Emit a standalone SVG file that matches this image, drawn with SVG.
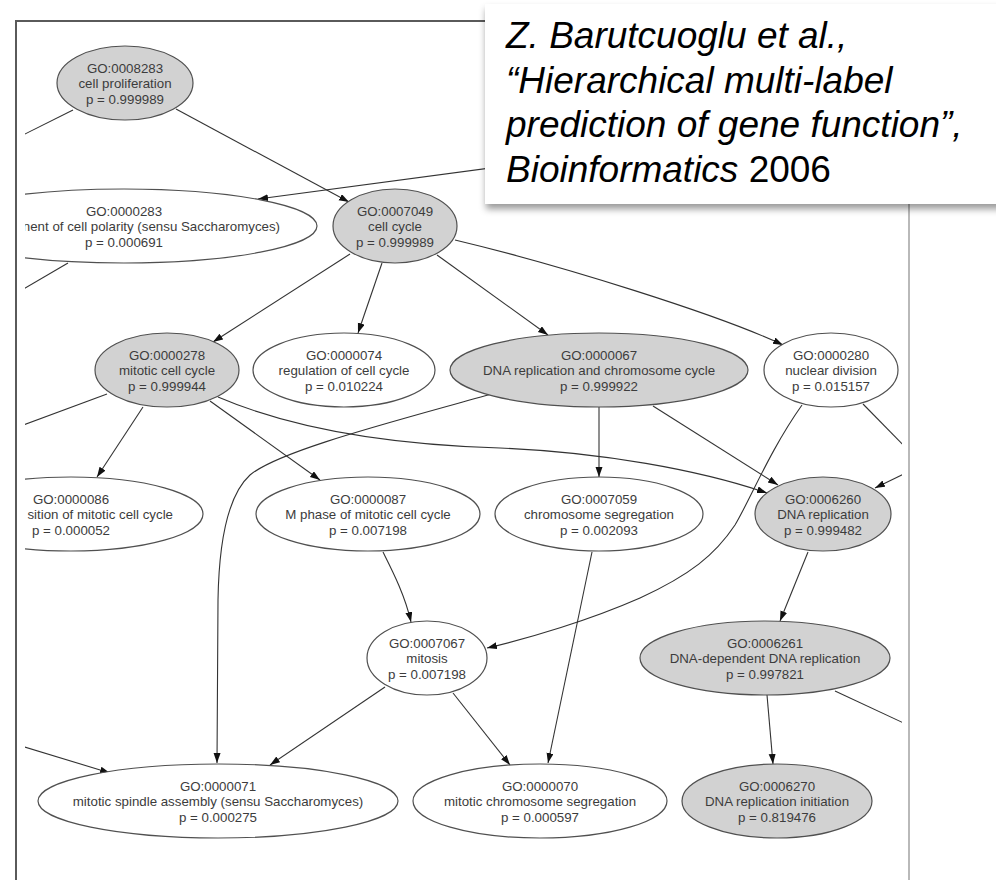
<svg xmlns="http://www.w3.org/2000/svg" width="996" height="880" viewBox="0 0 996 880">
<style>
.nd ellipse{stroke:#505050;stroke-width:1.2}
.g ellipse{fill:#d2d2d2}
.w ellipse{fill:#ffffff}
.nd text{font-family:"Liberation Sans",Arial,sans-serif;font-size:13.3px;fill:#3c3c3c;text-anchor:middle}
.nd text.e{text-anchor:end}
.edges path{fill:none;stroke:#333;stroke-width:1.1}
.edges path.a{marker-end:url(#arr)}
.cap{font-family:"Liberation Sans",Arial,sans-serif;font-size:37px;fill:#000;font-style:italic}
</style>
<defs>
<marker id="arr" markerUnits="userSpaceOnUse" markerWidth="11" markerHeight="8" refX="10" refY="3.5" orient="auto">
<path d="M0,0 L10,3.5 L0,7 z" fill="#111"/>
</marker>
<clipPath id="clip"><rect x="25" y="22" width="877" height="858"/></clipPath>
<filter id="sh" x="-10%" y="-20%" width="130%" height="150%">
<feDropShadow dx="1" dy="5" stdDeviation="3.5" flood-color="#000" flood-opacity="0.4"/>
</filter>
</defs>
<rect width="996" height="880" fill="#fff"/>
<g id="frame">
<path d="M16,880 L16,21 L909,21" fill="none" stroke="#5a5a5a" stroke-width="2"/>
<path d="M909,21 L909,880" fill="none" stroke="#8a8a8a" stroke-width="1.2"/>
</g>
<g clip-path="url(#clip)">
<g class="edges" id="connectors">
<path class="a" d="M176,109 L349,202"/>
<path d="M73,110 L15,139"/>
<path class="a" d="M520,164 L258,199"/>
<path d="M68,263 L15,294"/>
<path class="a" d="M350,254 L213,342"/>
<path class="a" d="M382,263 L358,333"/>
<path class="a" d="M437,255 L548,335"/>
<path class="a" d="M455,240 C560,265 720,315 783,345"/>
<path d="M107,394 L15,428"/>
<path class="a" d="M143,407 L97,477"/>
<path class="a" d="M210,401 L320,480"/>
<path class="a" d="M218,397 C300,432 400,445 500,448 C600,452 700,470 767,493"/>
<path class="a" d="M495,393 C400,420 280,450 250,475 C228,495 219,540 218,600 L217,763"/>
<path class="a" d="M383,552 C392,570 405,595 411,622"/>
<path class="a" d="M599,407 L599,477"/>
<path class="a" d="M653,406 L778,485"/>
<path class="a" d="M802,405 C770,450 750,500 735,525 C715,555 690,575 640,598 C590,620 530,638 487,648"/>
<path d="M863,404 L910,452"/>
<path class="a" d="M910,471 L875,488"/>
<path class="a" d="M592,552 L548,763"/>
<path class="a" d="M808,552 L780,621"/>
<path class="a" d="M385,687 L270,765"/>
<path class="a" d="M453,693 L510,765"/>
<path class="a" d="M15,744 L110,773"/>
<path class="a" d="M767,695 L773,764"/>
<path d="M835,691 L910,726"/>
</g>
<g id="n8283" class="nd g"><ellipse cx="125" cy="83" rx="68" ry="37"/><text x="125" y="72.5">GO:0008283</text><text x="125" y="88">cell proliferation</text><text x="125" y="103.5">p = 0.999989</text></g>
<g id="n0283" class="nd w"><ellipse cx="124" cy="226" rx="193" ry="37"/><text x="124" y="215.5">GO:0000283</text><text class="e" x="280" y="231">nent of cell polarity (sensu Saccharomyces)</text><text x="124" y="246.5">p = 0.000691</text></g>
<g id="n7049" class="nd g"><ellipse cx="395" cy="226" rx="62" ry="37"/><text x="395" y="215.5">GO:0007049</text><text x="395" y="231">cell cycle</text><text x="395" y="246.5">p = 0.999989</text></g>
<g id="n0278" class="nd g"><ellipse cx="167" cy="370" rx="72" ry="37"/><text x="167" y="359.5">GO:0000278</text><text x="167" y="375">mitotic cell cycle</text><text x="167" y="390.5">p = 0.999944</text></g>
<g id="n0074" class="nd w"><ellipse cx="344" cy="370" rx="91" ry="37"/><text x="344" y="359.5">GO:0000074</text><text x="344" y="375">regulation of cell cycle</text><text x="344" y="390.5">p = 0.010224</text></g>
<g id="n0067" class="nd g"><ellipse cx="599" cy="370" rx="149" ry="37"/><text x="599" y="359.5">GO:0000067</text><text x="599" y="375">DNA replication and chromosome cycle</text><text x="599" y="390.5">p = 0.999922</text></g>
<g id="n0280" class="nd w"><ellipse cx="831" cy="370" rx="67" ry="37"/><text x="831" y="359.5">GO:0000280</text><text x="831" y="375">nuclear division</text><text x="831" y="390.5">p = 0.015157</text></g>
<g id="n0086" class="nd w"><ellipse cx="71" cy="514" rx="132" ry="37"/><text x="71" y="503.5">GO:0000086</text><text class="e" x="173" y="519">sition of mitotic cell cycle</text><text x="71" y="534.5">p = 0.000052</text></g>
<g id="n0087" class="nd w"><ellipse cx="368" cy="514" rx="112" ry="37"/><text x="368" y="503.5">GO:0000087</text><text x="368" y="519">M phase of mitotic cell cycle</text><text x="368" y="534.5">p = 0.007198</text></g>
<g id="n7059" class="nd w"><ellipse cx="599" cy="514" rx="104" ry="37"/><text x="599" y="503.5">GO:0007059</text><text x="599" y="519">chromosome segregation</text><text x="599" y="534.5">p = 0.002093</text></g>
<g id="n6260" class="nd g"><ellipse cx="823" cy="514" rx="68" ry="37"/><text x="823" y="503.5">GO:0006260</text><text x="823" y="519">DNA replication</text><text x="823" y="534.5">p = 0.999482</text></g>
<g id="n7067" class="nd w"><ellipse cx="427" cy="658" rx="60" ry="37"/><text x="427" y="647.5">GO:0007067</text><text x="427" y="663">mitosis</text><text x="427" y="678.5">p = 0.007198</text></g>
<g id="n6261" class="nd g"><ellipse cx="765" cy="658" rx="125" ry="37"/><text x="765" y="647.5">GO:0006261</text><text x="765" y="663">DNA-dependent DNA replication</text><text x="765" y="678.5">p = 0.997821</text></g>
<g id="n0071" class="nd w"><ellipse cx="218" cy="801" rx="180" ry="37"/><text x="218" y="790.5">GO:0000071</text><text x="218" y="806">mitotic spindle assembly (sensu Saccharomyces)</text><text x="218" y="821.5">p = 0.000275</text></g>
<g id="n0070" class="nd w"><ellipse cx="540" cy="801" rx="127" ry="37"/><text x="540" y="790.5">GO:0000070</text><text x="540" y="806">mitotic chromosome segregation</text><text x="540" y="821.5">p = 0.000597</text></g>
<g id="n6270" class="nd g"><ellipse cx="777" cy="801" rx="95" ry="37"/><text x="777" y="790.5">GO:0006270</text><text x="777" y="806">DNA replication initiation</text><text x="777" y="821.5">p = 0.819476</text></g>
</g>
<g id="caption">
<rect x="485" y="4" width="530" height="200" fill="#fff" filter="url(#sh)"/>
<text class="cap" x="506" y="48">Z. Barutcuoglu et al.,</text>
<text class="cap" x="506" y="93">“Hierarchical multi-label</text>
<text class="cap" x="506" y="137">prediction of gene function”,</text>
<text class="cap" x="506" y="182">Bioinformatics<tspan font-style="normal"> 2006</tspan></text>
</g>
</svg>
